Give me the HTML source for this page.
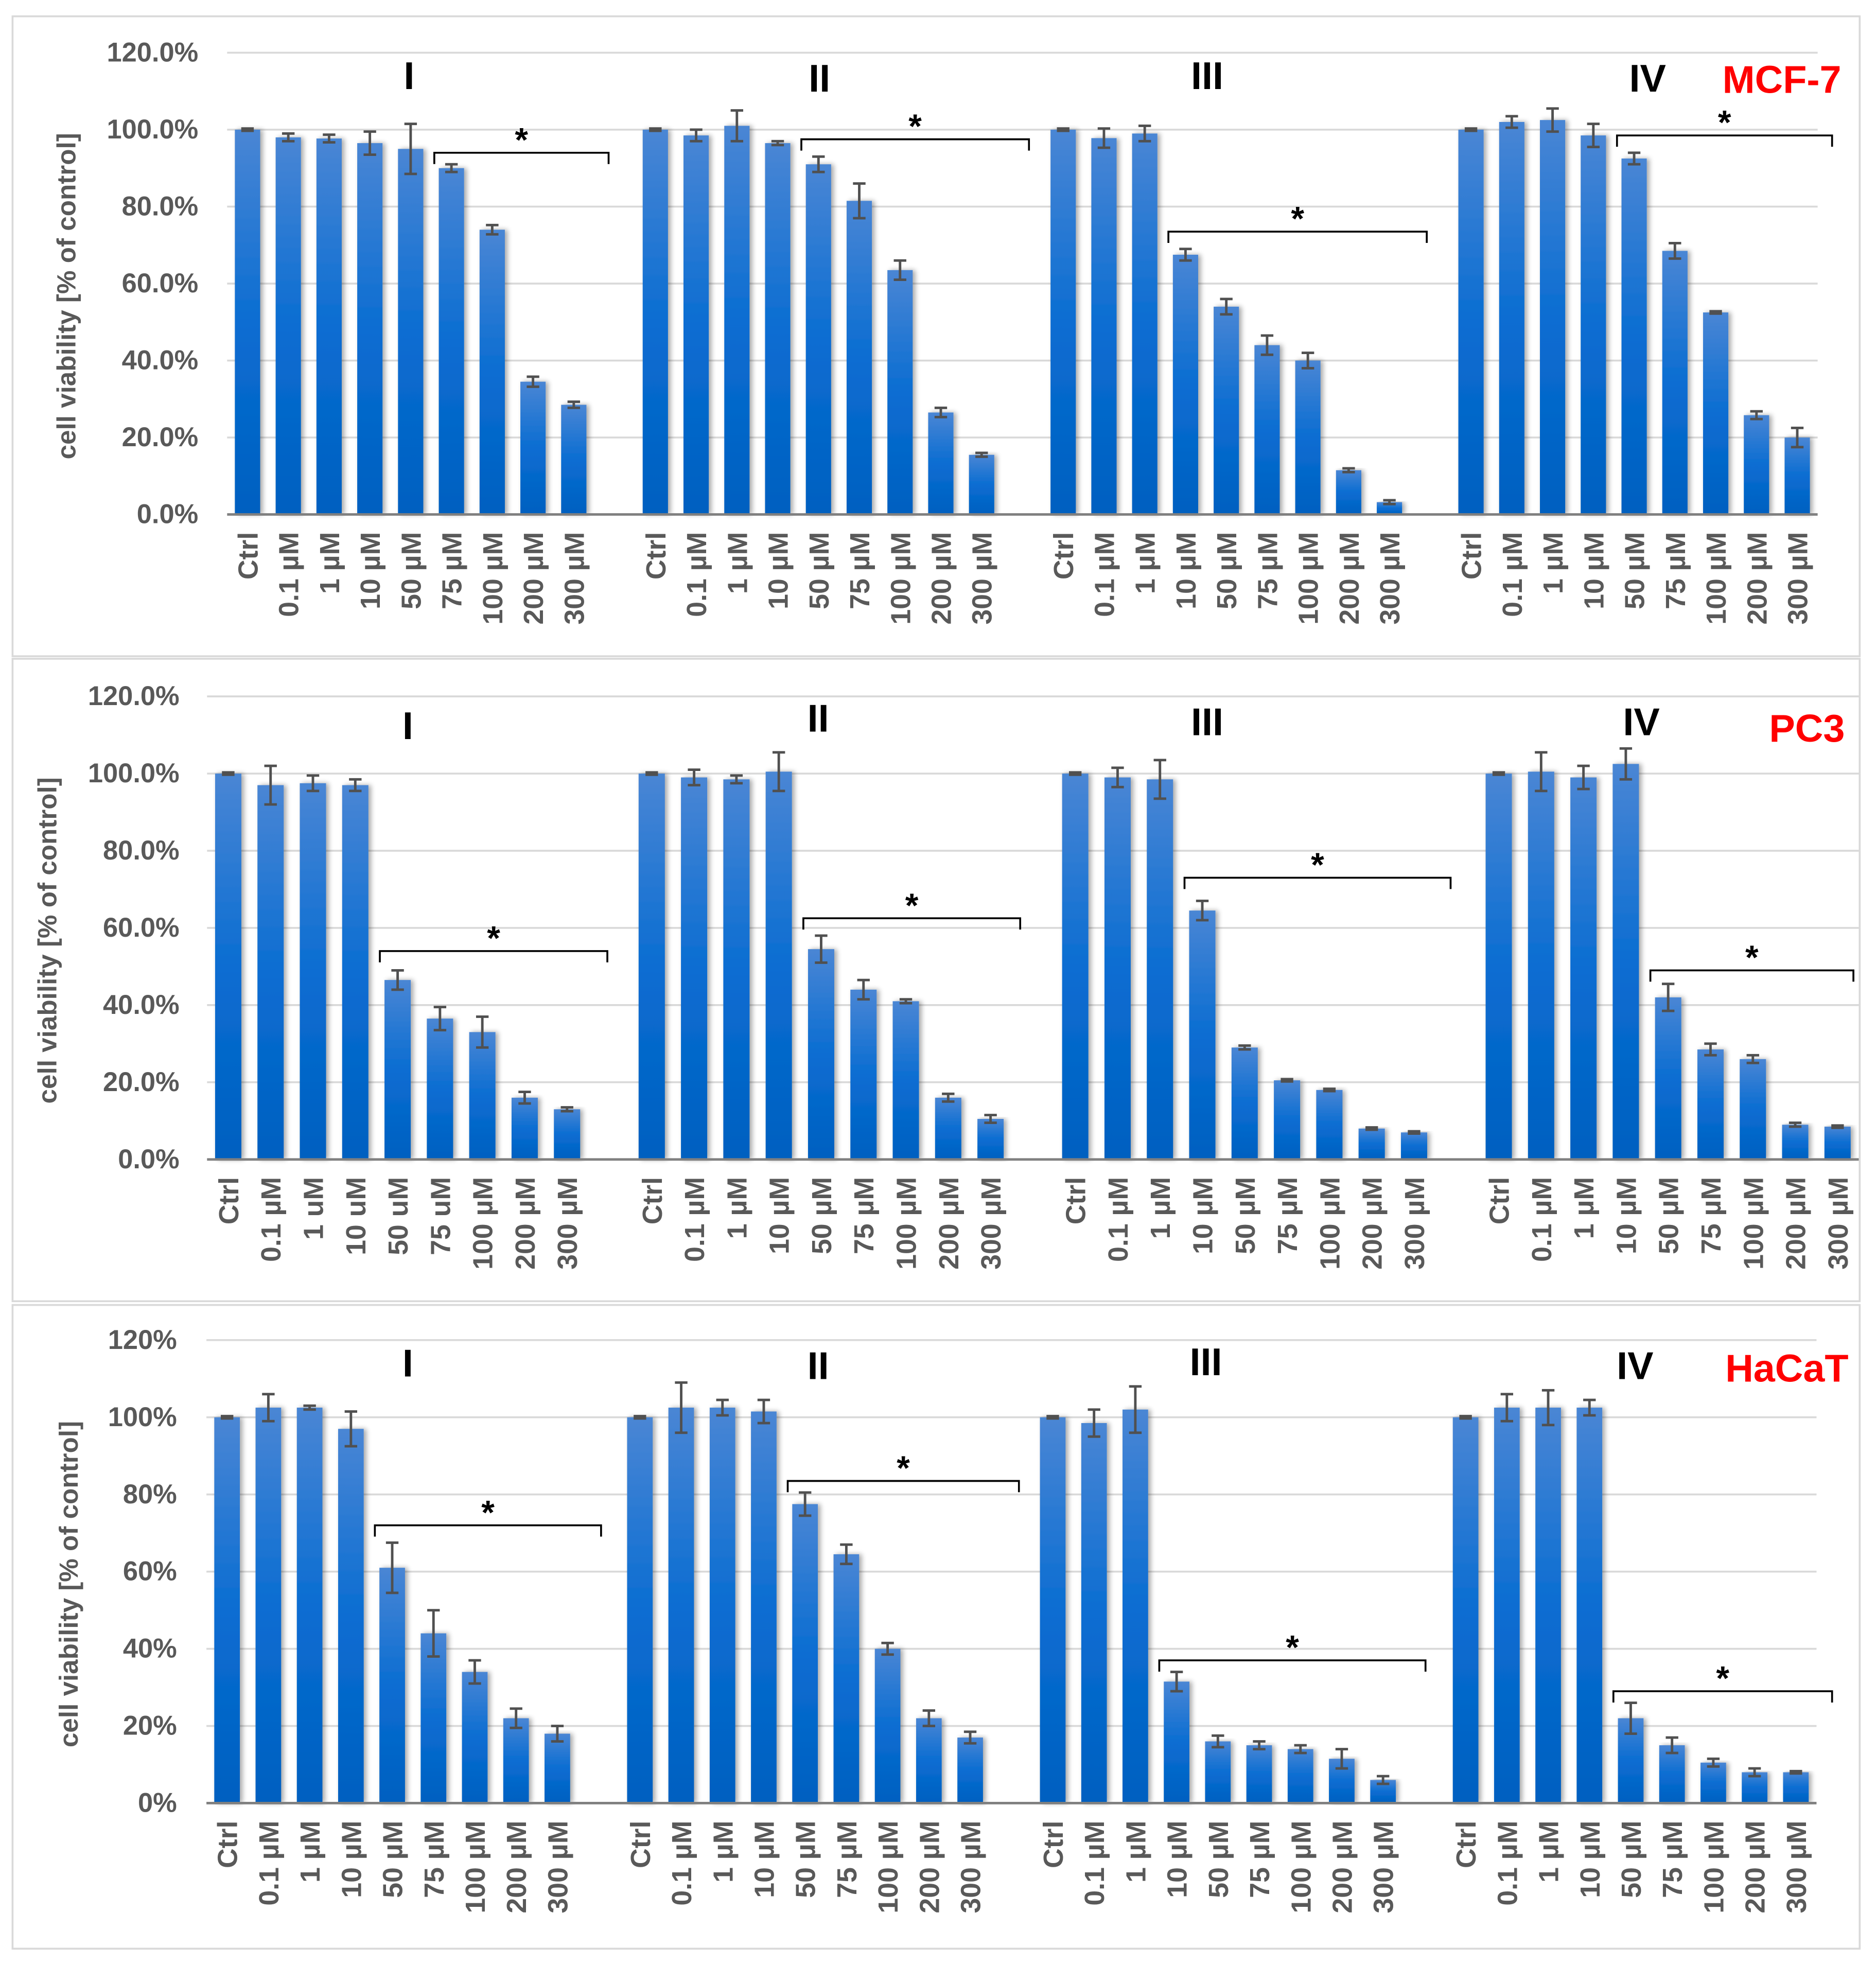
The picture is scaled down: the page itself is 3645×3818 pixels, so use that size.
<!DOCTYPE html>
<html><head><meta charset="utf-8"><style>
html,body{margin:0;padding:0;background:#fff;}
svg{display:block;}
</style></head><body>
<svg id="fig" xmlns="http://www.w3.org/2000/svg" width="3645" height="3818" viewBox="0 0 1495 1566" preserveAspectRatio="none" font-family="'Liberation Sans', sans-serif">
<defs>
<linearGradient id="bg" x1="0" y1="0" x2="0" y2="1">
<stop offset="0" stop-color="#4a86d4"/><stop offset="0.5" stop-color="#0a6dd2"/><stop offset="1" stop-color="#0060c0"/>
</linearGradient>
<filter id="sh" x="-30%" y="-5%" width="160%" height="110%"><feGaussianBlur in="SourceAlpha" stdDeviation="2"/><feOffset dx="2" dy="0"/><feComponentTransfer><feFuncA type="linear" slope="0.35"/></feComponentTransfer><feMerge><feMergeNode/><feMergeNode in="SourceGraphic"/></feMerge></filter>
</defs>
</svg>
<script>
// ---- data ----
const categories = ["Ctrl","0.1 µM","1 µM","10 µM","50 µM","75 µM","100 µM","200 µM","300 µM"];
const categoriesPC3I = ["Ctrl","0.1 µM","1 uM","10 uM","50 uM","75 uM","100 µM","200 µM","300 µM"];
const groupLabels = ["I","II","III","IV"];
const cellLines = ["MCF-7","PC3","HaCaT"];
const ticksDec = ["0.0%","20.0%","40.0%","60.0%","80.0%","100.0%","120.0%"];
const ticksInt = ["0%","20%","40%","60%","80%","100%","120%"];
const tickValues = [0,20,40,60,80,100,120];

const mcf7Means = [
 [100,98,97.7,96.5,95,90,74,34.5,28.5],
 [100,98.5,101,96.5,91,81.5,63.5,26.5,15.5],
 [100,97.8,99,67.5,54,44,40,11.5,3.2],
 [100,102,102.5,98.5,92.5,68.5,52.5,25.8,20]];
const mcf7Err = [
 [0.3,1,1,3,6.5,1,1.2,1.3,0.8],
 [0.3,1.5,4,0.5,2,4.5,2.5,1.2,0.5],
 [0.3,2.5,2,1.5,2,2.5,2,0.5,0.5],
 [0.3,1.5,3,3,1.5,2,0.3,1,2.5]];
const pc3Means = [
 [100,97,97.5,97,46.5,36.5,33,16,13],
 [100,99,98.5,100.5,54.5,44,41,16,10.5],
 [100,99,98.5,64.5,29,20.5,18,8,7],
 [100,100.5,99,102.5,42,28.5,26,9,8.5]];
const pc3Err = [
 [0.3,5,2,1.5,2.5,3,4,1.5,0.5],
 [0.3,2,1,5,3.5,2.5,0.5,1,1],
 [0.3,2.5,5,2.5,0.5,0.3,0.3,0.3,0.3],
 [0.3,5,3,4,3.5,1.5,1,0.5,0.3]];
const hacatMeans = [
 [100,102.5,102.5,97,61,44,34,22,18],
 [100,102.5,102.5,101.5,77.5,64.5,40,22,17],
 [100,98.5,102,31.5,16,15,14,11.5,6],
 [100,102.5,102.5,102.5,22,15,10.5,8,8]];
const hacatErr = [
 [0.3,3.5,0.5,4.5,6.5,6,3,2.5,2],
 [0.3,6.5,2,3,3,2.5,1.5,2,1.5],
 [0.3,3.5,6,2.5,1.5,1,1,2.5,1],
 [0.3,3.5,4.5,2,4,2,1,1,0.3]];
// significance brackets: [startCategoryIndex, bracket level %]
const mcf7Sig = [[5,94],[4,97.5],[3,73.5],[4,98.5]];
const pc3Sig = [[4,54],[4,62.5],[3,73],[4,49]];
const hacatSig = [[4,72],[4,83.5],[3,37],[4,29]];

// ---- layout ----
const NS="http://www.w3.org/2000/svg";
const svg=document.getElementById('fig');
function mk(tag,attrs,parent){const e=document.createElementNS(NS,tag);for(const k in attrs)e.setAttribute(k,attrs[k]);(parent||svg).appendChild(e);return e;}
const panels=[
 {means:mcf7Means,err:mcf7Err,sig:mcf7Sig,ticks:ticksDec,box:[10,13,1472,510],y0:410,y120:42,x0:181,step:32.5,tickR:158,titleX:60,cl:[1420,63],roman:[[326,60],[653,62],[962,60],[1313,62]],ends:[485,820,1137,1460],cats:[categories,categories,categories,categories]},
 {means:pc3Means,err:pc3Err,sig:pc3Sig,ticks:ticksDec,box:[10,525,1472,512],y0:924,y120:555,x0:165,step:33.75,tickR:143,titleX:45,cl:[1440,580],roman:[[325,578],[652,572],[962,575],[1308,575]],ends:[484,813,1156,1477],cats:[categoriesPC3I,categories,categories,categories]},
 {means:hacatMeans,err:hacatErr,sig:hacatSig,ticks:ticksInt,box:[10,1040,1472,513],y0:1437,y120:1068,x0:164.5,step:32.9,tickR:141,titleX:62,cl:[1424,1090],roman:[[325,1086],[652,1088],[961,1085],[1303,1088]],ends:[479,812,1136,1460],cats:[categories,categories,categories,categories]}
];

panels.forEach((p,pi)=>{
 const g=mk('g',{});
 
 
 const b=mk('rect',{x:p.box[0],y:p.box[1],width:p.box[2],height:p.box[3],fill:'#fff',stroke:'#d9d9d9','stroke-width':1.5},g);
 
 
 const yS=v=>p.y0+(p.y120-p.y0)*v/120;
 const xEnd=p.x0+39*p.step;
 const xC=(gi,ci)=>p.x0+p.step*(gi*10+ci+0.5);
 tickValues.forEach((tv,ti)=>{
  if(tv>0){const l=mk('line',{x1:p.x0,x2:xEnd,y1:yS(tv),y2:yS(tv),stroke:'#d9d9d9','stroke-width':1.5},g);
   
   }
  const t=mk('text',{x:p.tickR,y:yS(tv)+7,'text-anchor':'end','font-size':21.5,'font-weight':'bold',fill:'#595959'},g);
  t.textContent=p.ticks[ti];
  
  
 });
 const ym=(p.y0+p.y120)/2+10;
 const yt=mk('text',{x:p.titleX,y:ym,transform:`rotate(-90 ${p.titleX} ${ym})`,'text-anchor':'middle','font-size':21,'font-weight':'bold',fill:'#595959'},g);
 yt.textContent='cell viability [% of control]';
 
 
 p.means.forEach((grp,gi)=>{
  grp.forEach((v,ci)=>{
   const x=xC(gi,ci),w=p.step*0.62;
   const r=mk('rect',{x:x-w/2,y:yS(v),width:w,height:p.y0-yS(v),fill:'url(#bg)',filter:'url(#sh)'},g);
   
   
   const e=p.err[gi][ci];
   const eb=mk('path',{d:`M${x-5} ${yS(v+e)}H${x+5}M${x} ${yS(v+e)}V${yS(v-e)}M${x-5} ${yS(v-e)}H${x+5}`,stroke:'#505050','stroke-width':2,fill:'none'},g);
   
   
   const lx=x+8,ly=p.y0+14;
   const t=mk('text',{x:lx,y:ly,transform:`rotate(-90 ${lx} ${ly})`,'text-anchor':'end','font-size':22,'font-weight':'bold',fill:'#595959'},g);
   t.textContent=p.cats[gi][ci];
   
   
  });
  const rt=mk('text',{x:p.roman[gi][0],y:p.roman[gi][1]+11,'text-anchor':'middle','font-size':31,'font-weight':'bold',fill:'#000'},g);
  rt.textContent=groupLabels[gi];
  
  
  const s=p.sig[gi];
  const bx1=xC(gi,s[0])-p.step*0.42, bx2=p.ends[gi], by=yS(s[1]);
  const br=mk('path',{d:`M${bx1} ${by+9}V${by}H${bx2}V${by+9}`,stroke:'#000','stroke-width':1.5,fill:'none'},g);
  
  
  const st=mk('text',{x:(bx1+bx2)/2,y:by-1,'text-anchor':'middle','font-size':27,'font-weight':'bold',fill:'#000'},g);
  st.textContent='*';
  
  
 });
 const ax=mk('line',{x1:p.x0,x2:xEnd,y1:p.y0,y2:p.y0,stroke:'#808080','stroke-width':2},g);
 
 
 const cl=mk('text',{x:p.cl[0],y:p.cl[1]+11,'text-anchor':'middle','font-size':31,'font-weight':'bold',fill:'#ff0000'},g);
 cl.textContent=cellLines[pi];
 
 
});
</script>
</body></html>
